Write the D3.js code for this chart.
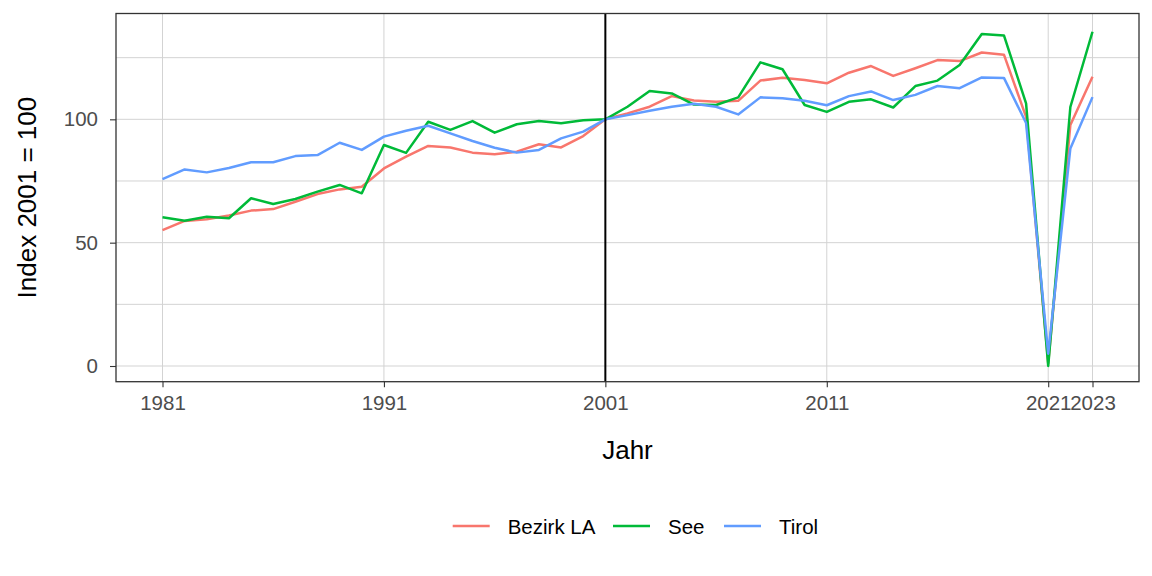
<!DOCTYPE html>
<html>
<head>
<meta charset="utf-8">
<script src="https://cdn.jsdelivr.net/npm/d3@7"></script>
<style>
  html, body { margin: 0; padding: 0; background: #fff; }
  svg { display: block; font-family: "Liberation Sans", Arial, sans-serif; }
</style>
</head>
<body>
<svg id="chart" width="1152" height="576"></svg>
<script>
const years = d3.range(1981, 2024);
const seriesNames = ["Bezirk LA", "See", "Tirol"];
const seriesColors = ["#F8766D", "#00BA38", "#619CFF"];

const bezirkLA = [55.1, 58.8, 59.5, 61.0, 63.0, 63.6, 66.6, 69.7, 71.6, 72.7,
  80.1, 84.9, 89.2, 88.6, 86.5, 85.8, 86.9, 89.9, 88.6, 93.2,
  100, 102.4, 105.1, 109.4, 107.6, 107.1, 107.5, 115.7, 116.9, 115.9,
  114.6, 118.9, 121.6, 117.6, 120.7, 124.0, 123.6, 127.1, 126.2, 101.0,
  1.2, 97.7, 117.3];
const see = [60.3, 58.9, 60.5, 59.9, 68.0, 65.7, 67.7, 70.7, 73.4, 70.0,
  89.6, 86.4, 99.0, 95.7, 99.3, 94.6, 98.0, 99.3, 98.4, 99.6,
  100, 105.1, 111.5, 110.5, 106.0, 105.8, 108.9, 123.1, 120.3, 105.8,
  103.0, 107.1, 108.1, 104.8, 113.5, 115.7, 122.0, 134.6, 134.0, 106.5,
  0.0, 105.0, 135.5];
const tirol = [75.8, 79.7, 78.5, 80.3, 82.6, 82.6, 85.1, 85.5, 90.5, 87.6,
  93.0, 95.4, 97.4, 94.3, 91.2, 88.5, 86.5, 87.6, 92.3, 95.0,
  100, 101.7, 103.5, 105.1, 106.3, 105.1, 102.0, 108.9, 108.5, 107.5,
  105.7, 109.4, 111.3, 107.8, 109.9, 113.5, 112.6, 117.0, 116.8, 98.5,
  5.0, 88.2, 109.0];
const seriesValues = [bezirkLA, see, tirol];

const xTicks = [1981, 1991, 2001, 2011, 2021, 2023];
const yTicks = [0, 50, 100];
const yMinor = [25, 75, 125];
const refYear = 2001;
const xTitle = "Jahr";
const yTitle = "Index 2001 = 100";

const svg = d3.select("#chart");
const L = 116, R = 1139, T = 13.5, B = 381.7;

const x = d3.scaleLinear().domain([1978.9, 2025.1]).range([L, R]);
const y = d3.scaleLinear().domain([-6.36, 142.9]).range([B, T]);

svg.append("rect").attr("width", 1152).attr("height", 576).attr("fill", "#fff");

const grid = svg.append("g");
grid.selectAll("line.ymin").data(yMinor).join("line")
  .attr("x1", L).attr("x2", R).attr("y1", d => y(d)).attr("y2", d => y(d))
  .attr("stroke", "#D3D3D3").attr("stroke-width", 1);
grid.selectAll("line.ymaj").data(yTicks).join("line")
  .attr("x1", L).attr("x2", R).attr("y1", d => y(d)).attr("y2", d => y(d))
  .attr("stroke", "#D3D3D3").attr("stroke-width", 1);
grid.selectAll("line.xmaj").data(xTicks).join("line")
  .attr("y1", T).attr("y2", B).attr("x1", d => x(d)).attr("x2", d => x(d))
  .attr("stroke", "#D3D3D3").attr("stroke-width", 1);

const line = d3.line().x((d, i) => x(years[i])).y(d => y(d)).curve(d3.curveLinear);
seriesValues.forEach((vals, k) => {
  svg.append("path").datum(vals)
    .attr("d", line)
    .attr("fill", "none")
    .attr("stroke", seriesColors[k])
    .attr("stroke-width", 2.5)
    .attr("stroke-linejoin", "round");
});

svg.append("line")
  .attr("x1", x(refYear)).attr("x2", x(refYear)).attr("y1", T).attr("y2", B)
  .attr("stroke", "#000").attr("stroke-width", 2);

svg.append("rect").attr("x", L).attr("y", T).attr("width", R - L).attr("height", B - T)
  .attr("fill", "none").attr("stroke", "#333").attr("stroke-width", 1.3);

// axes
const xAxis = d3.axisBottom(x).tickValues(xTicks).tickFormat(d3.format("d")).tickSize(5.5).tickPadding(8);
const gx = svg.append("g").attr("transform", `translate(0,${B})`).call(xAxis);
gx.select(".domain").remove();
gx.selectAll(".tick line").attr("stroke", "#333").attr("stroke-width", 1.1);
gx.selectAll(".tick text").attr("fill", "#4D4D4D").attr("font-size", "20.5px")
  .attr("font-family", "Liberation Sans, Arial, sans-serif");

const yAxis = d3.axisLeft(y).tickValues(yTicks).tickFormat(d3.format("d")).tickSize(6).tickPadding(12);
const gy = svg.append("g").attr("transform", `translate(${L},0)`).call(yAxis);
gy.select(".domain").remove();
gy.selectAll(".tick line").attr("stroke", "#333").attr("stroke-width", 1.1);
gy.selectAll(".tick text").attr("fill", "#4D4D4D").attr("font-size", "20.5px")
  .attr("font-family", "Liberation Sans, Arial, sans-serif");

svg.append("text").attr("x", (L + R) / 2).attr("y", 459).attr("text-anchor", "middle")
  .attr("font-size", "26px").attr("fill", "#000").text(xTitle);
svg.append("text").attr("transform", `translate(36,${(T + B) / 2}) rotate(-90)`)
  .attr("text-anchor", "middle").attr("font-size", "26px").attr("fill", "#000").text(yTitle);

// legend
const legendItems = [
  { name: seriesNames[0], color: seriesColors[0], x0: 452.7 },
  { name: seriesNames[1], color: seriesColors[1], x0: 613 },
  { name: seriesNames[2], color: seriesColors[2], x0: 724 }
];
const lg = svg.append("g");
legendItems.forEach(it => {
  lg.append("line").attr("x1", it.x0).attr("x2", it.x0 + 37).attr("y1", 526).attr("y2", 526)
    .attr("stroke", it.color).attr("stroke-width", 2.5);
  lg.append("text").attr("x", it.x0 + 55).attr("y", 533.5).attr("font-size", "20.5px")
    .attr("fill", "#000").text(it.name);
});
</script>
</body>
</html>
